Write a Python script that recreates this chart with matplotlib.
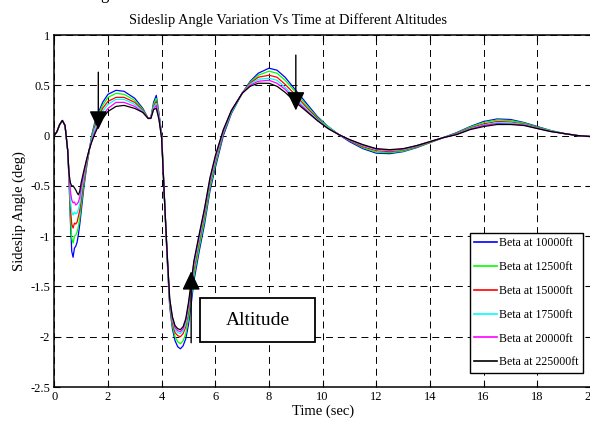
import matplotlib
matplotlib.use("Agg")
import matplotlib.pyplot as plt
from matplotlib.patches import Rectangle

plt.rcParams['font.family'] = ['Liberation Serif', 'DejaVu Serif']
plt.rcParams['axes.unicode_minus'] = False
plt.rcParams['lines.scale_dashes'] = False

t = [0, 0.1, 0.2, 0.3, 0.4,
     0.5, 0.55, 0.6, 0.65, 0.7,
     0.75, 0.8, 0.85, 0.9, 0.95,
     1.0, 1.1, 1.2, 1.3, 1.4,
     1.5, 1.6, 1.8, 2.0, 2.3,
     2.6, 3.0, 3.3, 3.5, 3.6,
     3.7, 3.8, 3.9, 4.0, 4.1,
     4.2, 4.3, 4.4, 4.5, 4.6,
     4.7, 4.8, 4.9, 5.0, 5.1,
     5.2, 5.4, 5.6, 5.8, 6.0,
     6.3, 6.6, 7.0, 7.3, 7.6,
     8.0, 8.3, 8.6, 9.0, 9.4,
     9.8, 10.2, 10.6, 11.0, 11.5,
     12.0, 12.5, 13.0, 13.5, 14.0,
     14.5, 15.0, 15.5, 16.0, 16.5,
     17.0, 17.5, 18.0, 18.5, 19.0,
     19.5, 20.0]

beta_10000 = [0, 0.04, 0.11, 0.15, 0.10,
              -0.15, -0.45, -0.85, -1.15, -1.21,
              -1.12, -1.10, -1.06, -0.98, -0.88,
              -0.76, -0.52, -0.32, -0.15, 0.01,
              0.12, 0.20, 0.33, 0.41, 0.45,
              0.44, 0.37, 0.27, 0.17, 0.18,
              0.33, 0.40, 0.22, 0.02, -0.60,
              -1.20, -1.70, -1.92, -2.04, -2.10,
              -2.12, -2.09, -2.02, -1.88, -1.68,
              -1.45, -1.15, -0.88, -0.55, -0.32,
              0.0, 0.22, 0.42, 0.54, 0.62,
              0.67, 0.65, 0.58, 0.45, 0.32,
              0.19, 0.09, 0.01, -0.06, -0.13,
              -0.175, -0.18, -0.16, -0.12, -0.07,
              -0.02, 0.03, 0.09, 0.14, 0.165,
              0.16, 0.13, 0.09, 0.05, 0.02,
              0.0, -0.01]

beta_12500 = [0, 0.04, 0.11, 0.15, 0.10,
              -0.15, -0.44, -0.80, -1.02, -1.07,
              -1.00, -0.99, -0.96, -0.90, -0.82,
              -0.70, -0.49, -0.30, -0.15, 0.0,
              0.10, 0.18, 0.30, 0.38, 0.42,
              0.41, 0.35, 0.26, 0.17, 0.18,
              0.31, 0.37, 0.21, 0.01, -0.60,
              -1.18, -1.68, -1.89, -2.00, -2.05,
              -2.07, -2.04, -1.97, -1.82, -1.62,
              -1.40, -1.11, -0.84, -0.52, -0.29,
              0.02, 0.23, 0.42, 0.53, 0.60,
              0.64, 0.62, 0.55, 0.43, 0.30,
              0.18, 0.09, 0.01, -0.05, -0.12,
              -0.165, -0.17, -0.155, -0.115, -0.07,
              -0.02, 0.025, 0.085, 0.13, 0.155,
              0.15, 0.125, 0.085, 0.05, 0.02,
              0.0, -0.01]

beta_15000 = [0, 0.04, 0.11, 0.15, 0.10,
              -0.15, -0.42, -0.72, -0.88, -0.92,
              -0.87, -0.88, -0.86, -0.80, -0.74,
              -0.64, -0.45, -0.28, -0.15, -0.02,
              0.08, 0.15, 0.27, 0.34, 0.38,
              0.38, 0.33, 0.25, 0.17, 0.18,
              0.29, 0.34, 0.20, 0.0, -0.60,
              -1.17, -1.66, -1.86, -1.96, -1.99,
              -2.00, -1.97, -1.90, -1.76, -1.56,
              -1.34, -1.06, -0.79, -0.48, -0.26,
              0.03, 0.24, 0.42, 0.52, 0.58,
              0.60, 0.58, 0.51, 0.40, 0.28,
              0.17, 0.08, 0.01, -0.05, -0.11,
              -0.15, -0.16, -0.145, -0.11, -0.065,
              -0.02, 0.02, 0.075, 0.115, 0.14,
              0.135, 0.115, 0.08, 0.045, 0.02,
              0.0, -0.01]

beta_17500 = [0, 0.04, 0.11, 0.15, 0.10,
              -0.15, -0.40, -0.64, -0.76, -0.79,
              -0.76, -0.78, -0.77, -0.73, -0.68,
              -0.58, -0.41, -0.26, -0.14, -0.03,
              0.06, 0.12, 0.24, 0.31, 0.36,
              0.36, 0.31, 0.24, 0.17, 0.18,
              0.28, 0.32, 0.19, -0.01, -0.60,
              -1.16, -1.64, -1.83, -1.93, -1.96,
              -1.97, -1.94, -1.87, -1.72, -1.52,
              -1.30, -1.03, -0.76, -0.46, -0.24,
              0.04, 0.24, 0.42, 0.51, 0.56,
              0.57, 0.55, 0.48, 0.37, 0.26,
              0.16, 0.08, 0.01, -0.045, -0.10,
              -0.14, -0.15, -0.14, -0.105, -0.06,
              -0.02, 0.015, 0.07, 0.105, 0.13,
              0.125, 0.11, 0.075, 0.045, 0.02,
              0.0, -0.01]

beta_20000 = [0, 0.04, 0.11, 0.15, 0.10,
              -0.15, -0.39, -0.55, -0.64, -0.67,
              -0.66, -0.69, -0.68, -0.66, -0.61,
              -0.52, -0.38, -0.25, -0.14, -0.05,
              0.03, 0.09, 0.20, 0.27, 0.33,
              0.33, 0.29, 0.23, 0.17, 0.18,
              0.26, 0.30, 0.17, -0.02, -0.60,
              -1.15, -1.63, -1.81, -1.91, -1.94,
              -1.95, -1.92, -1.84, -1.69, -1.49,
              -1.27, -1.00, -0.74, -0.44, -0.22,
              0.05, 0.25, 0.42, 0.50, 0.54,
              0.55, 0.52, 0.46, 0.35, 0.25,
              0.15, 0.07, 0.01, -0.04, -0.095,
              -0.135, -0.145, -0.135, -0.10, -0.06,
              -0.02, 0.012, 0.065, 0.10, 0.12,
              0.115, 0.105, 0.07, 0.04, 0.02,
              0.0, -0.01]

beta_225000 = [0, 0.04, 0.11, 0.15, 0.10,
               -0.15, -0.38, -0.47, -0.50, -0.50,
               -0.52, -0.54, -0.57, -0.59, -0.55,
               -0.47, -0.35, -0.24, -0.14, -0.06,
               0.01, 0.07, 0.17, 0.24, 0.29,
               0.30, 0.27, 0.23, 0.17, 0.17,
               0.26, 0.27, 0.16, -0.03, -0.60,
               -1.14, -1.62, -1.80, -1.89, -1.92,
               -1.93, -1.90, -1.82, -1.66, -1.46,
               -1.25, -0.98, -0.72, -0.42, -0.20,
               0.06, 0.25, 0.42, 0.49, 0.52,
               0.52, 0.49, 0.43, 0.33, 0.24,
               0.15, 0.07, 0.01, -0.04, -0.09,
               -0.13, -0.14, -0.13, -0.10, -0.06,
               -0.02, 0.01, 0.06, 0.09, 0.11,
               0.11, 0.10, 0.07, 0.04, 0.02,
               0.0, -0.01]

series = [beta_10000, beta_12500, beta_15000, beta_17500, beta_20000, beta_225000]
labels = ['Beta at 10000ft', 'Beta at 12500ft', 'Beta at 15000ft',
          'Beta at 17500ft', 'Beta at 20000ft', 'Beta at 225000ft']
colors = ['#0000ff', '#00ff00', '#ff0000', '#00ffff', '#ff00ff', '#000000']

xticks = [0, 2, 4, 6, 8, 10, 12, 14, 16, 18, 20]
xticklabels = ['0', '2', '4', '6', '8', '10', '12', '14', '16', '18', '20']
yticks = [1, 0.5, 0, -0.5, -1, -1.5, -2, -2.5]
yticklabels = ['1', '0.5', '0', '-0.5', '-1', '-1.5', '-2', '-2.5']

W, H = 590, 423
fig = plt.figure(figsize=(W / 100, H / 100), dpi=100)
fig.patch.set_facecolor('white')
ax = fig.add_axes([54.3 / W, 1 - 387 / H, (591 - 54.3) / W, (387 - 35) / H])

for ys, lab, c in zip(series, labels, colors):
    ax.plot(t, ys, color=c, lw=0.9, label=lab)

ax.set_xlim(0, 20)
ax.set_ylim(-2.5, 1)
ax.set_xticks(xticks)
ax.set_xticklabels(xticklabels)
ax.set_yticks(yticks)
ax.set_yticklabels(yticklabels)
ax.tick_params(direction='in', length=4, width=0.8, top=True, right=True,
               labelsize=9, pad=3, colors='black')
ax.grid(True, color='black', linestyle=(0, (5, 3.5)), linewidth=0.7)
for s in ax.spines.values():
    s.set_linewidth(1.1)
    s.set_color('black')

ax.set_xlabel('Time (sec)', fontsize=10.5, labelpad=1)
ax.set_ylabel('Sideslip Angle (deg)', fontsize=10.5, labelpad=3)
fig.text(288 / W, 1 - 20 / H, 'Sideslip Angle Variation Vs Time at Different Altitudes',
         ha='center', va='center', fontsize=10.4)
fig.text(100 / W, 1 + 1 / H, 'g', ha='left', va='baseline', fontsize=12)

# annotation arrows
arrow_style = '-|>,head_length=1.15,head_width=0.55'
ax.annotate('', xy=(1.64, 0.06), xytext=(1.64, 0.63),
            arrowprops=dict(arrowstyle=arrow_style, color='k', lw=1,
                            shrinkA=0, shrinkB=0, mutation_scale=10))
ax.annotate('', xy=(9.0, 0.25), xytext=(9.0, 0.80),
            arrowprops=dict(arrowstyle=arrow_style, color='k', lw=1,
                            shrinkA=0, shrinkB=0, mutation_scale=10))
ax.annotate('', xy=(5.1, -1.35), xytext=(5.1, -2.06),
            arrowprops=dict(arrowstyle=arrow_style, color='k', lw=1,
                            shrinkA=0, shrinkB=0, mutation_scale=10))

ax.add_patch(Rectangle((5.44, -2.055), 9.73 - 5.44, 2.055 - 1.613,
                       facecolor='white', edgecolor='black', lw=1.3, zorder=5))
ax.text((5.44 + 9.73) / 2, (-2.055 - 1.613) / 2, 'Altitude', ha='center', va='center',
        fontsize=14, zorder=6)

leg = ax.legend(loc='lower right', bbox_to_anchor=(0.985, 0.04), borderaxespad=0,
                fontsize=8.5, frameon=True, fancybox=False, framealpha=1,
                edgecolor='black', handlelength=1.9, handletextpad=0.2,
                labelspacing=1.0, borderpad=0.38)
leg.get_frame().set_linewidth(1.0)
leg.set_zorder(7)
for line in leg.get_lines():
    line.set_linewidth(1.2)

fig.savefig('out.png', dpi=100, facecolor='white')
